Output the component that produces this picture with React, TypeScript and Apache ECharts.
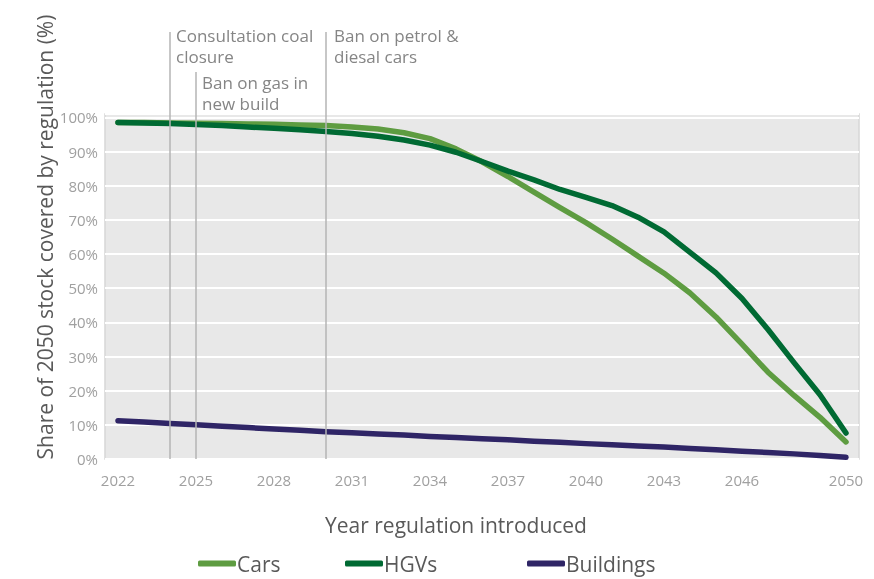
import React, { useEffect, useRef } from "react";
import * as echarts from "echarts";

const years = [
  "2022", "2023", "2024", "2025", "2026", "2027", "2028", "2029", "2030", "2031",
  "2032", "2033", "2034", "2035", "2036", "2037", "2038", "2039", "2040", "2041",
  "2042", "2043", "2044", "2045", "2046", "2047", "2048", "2049", "2050",
];

const cars = [
  98.5, 98.5, 98.4, 98.3, 98.2, 98.1, 98.0, 97.8, 97.6, 97.2,
  96.6, 95.5, 93.8, 90.8, 87.0, 82.7, 78.1, 73.6, 69.2, 64.4,
  59.4, 54.4, 48.6, 41.6, 33.6, 25.4, 18.6, 12.2, 5.0,
];

const hgvs = [
  98.5, 98.4, 98.2, 97.9, 97.6, 97.2, 96.8, 96.4, 95.9, 95.3,
  94.5, 93.4, 91.9, 89.8, 87.1, 84.3, 81.7, 78.9, 76.6, 74.2,
  70.8, 66.5, 60.5, 54.5, 47.0, 37.9, 28.2, 18.8, 7.6,
];

const buildings = [
  11.2, 10.8, 10.4, 10.0, 9.6, 9.2, 8.8, 8.4, 8.0, 7.7,
  7.3, 7.0, 6.6, 6.3, 5.9, 5.6, 5.2, 4.9, 4.5, 4.2,
  3.8, 3.5, 3.1, 2.7, 2.3, 1.9, 1.5, 1.0, 0.5,
];

const shownYears = ["2022", "2025", "2028", "2031", "2034", "2037", "2040", "2043", "2046", "2050"];

// Policy milestones: year, top of the marker line, top of its note, note lines
const milestones = [
  { year: "2024", lineTop: 32, textTop: 25, dx: 6, lines: ["Consultation coal", "closure"] },
  { year: "2025", lineTop: 72, textTop: 72, dx: 6, lines: ["Ban on gas in", "new build"] },
  { year: "2030", lineTop: 32, textTop: 25, dx: 8, lines: ["Ban on petrol &", "diesal cars"] },
];

const COLORS = { cars: "#5e9c41", hgvs: "#006a33", buildings: "#2f2566" };
const FONT = "'Open Sans', sans-serif";

export default function App() {
  const ref = useRef<HTMLDivElement>(null);

  useEffect(() => {
    if (!ref.current) return;
    const chart = echarts.init(ref.current, null, { renderer: "svg" });

    const legendBase = {
      orient: "horizontal" as const,
      itemWidth: 38,
      itemHeight: 6,
      itemGap: 0,
      padding: 0,
      top: 553,
      textStyle: {
        fontSize: 21,
        color: "#595959",
        fontFamily: FONT,
        padding: [0, 0, 8, -4],
      },
    };

    const lineSeries = (name: string, data: number[], color: string) => ({
      name,
      type: "line",
      data,
      showSymbol: false,
      symbol: "none",
      lineStyle: { width: 5.5, color, cap: "round", join: "round" },
      itemStyle: { color },
    });

    chart.setOption({
      animation: false,
      grid: {
        left: 105,
        right: 15,
        top: 114,
        bottom: 120,
        show: true,
        backgroundColor: "#e8e8e8",
        borderColor: "#d6d6d6",
        borderWidth: 1.5,
      },
      legend: [
        { ...legendBase, left: 198, data: [{ name: "Cars", icon: "roundRect" }] },
        { ...legendBase, left: 345, data: [{ name: "HGVs", icon: "roundRect" }] },
        { ...legendBase, left: 527, data: [{ name: "Buildings", icon: "roundRect" }] },
      ],
      xAxis: {
        type: "category",
        data: years,
        boundaryGap: true,
        axisLine: { show: false },
        axisTick: { show: false },
        axisLabel: {
          interval: (_i: number, v: string) => shownYears.includes(v),
          color: "#a0a0a0",
          fontSize: 15,
          fontFamily: FONT,
          margin: 13,
        },
        splitLine: { show: false },
      },
      yAxis: {
        type: "value",
        min: 0,
        max: 101,
        interval: 10,
        axisLine: { show: false },
        axisTick: { show: false },
        axisLabel: {
          formatter: (v: number) => (v % 10 === 0 ? `${v}%` : ""),
          color: "#a0a0a0",
          fontSize: 15,
          fontFamily: FONT,
          margin: 7,
        },
        splitLine: { lineStyle: { color: "#ffffff", width: 2 } },
      },
      series: [
        lineSeries("Cars", cars, COLORS.cars),
        lineSeries("HGVs", hgvs, COLORS.hgvs),
        lineSeries("Buildings", buildings, COLORS.buildings),
      ],
    });

    const baseY = chart.convertToPixel({ yAxisIndex: 0 }, 0) as number;
    const graphics: any[] = [];
    milestones.forEach((m) => {
      const x = chart.convertToPixel({ xAxisIndex: 0 }, m.year) as number;
      graphics.push({
        type: "line",
        z: 5,
        shape: { x1: x, y1: m.lineTop, x2: x, y2: baseY },
        style: { stroke: "#b5b5b5", lineWidth: 1.5 },
      });
      graphics.push({
        type: "text",
        z: 6,
        x: x + m.dx,
        y: m.textTop,
        style: {
          text: m.lines.join("\n"),
          fill: "#858585",
          font: `17px ${FONT}`,
          lineHeight: 21,
          textVerticalAlign: "top",
        },
      });
    });
    graphics.push({
      type: "text",
      x: 456,
      y: 525,
      style: {
        text: "Year regulation introduced",
        fill: "#595959",
        font: `21px ${FONT}`,
        textAlign: "center",
        textVerticalAlign: "middle",
      },
    });
    graphics.push({
      type: "text",
      x: 45,
      y: 237,
      rotation: Math.PI / 2,
      style: {
        text: "Share of 2050 stock covered by regulation (%)",
        fill: "#595959",
        font: `21px ${FONT}`,
        textAlign: "center",
        textVerticalAlign: "middle",
      },
    });
    chart.setOption({ graphic: graphics });

    return () => chart.dispose();
  }, []);

  return (
    <div
      ref={ref}
      style={{ position: "fixed", left: 0, top: 0, width: 874, height: 579 }}
    />
  );
}
